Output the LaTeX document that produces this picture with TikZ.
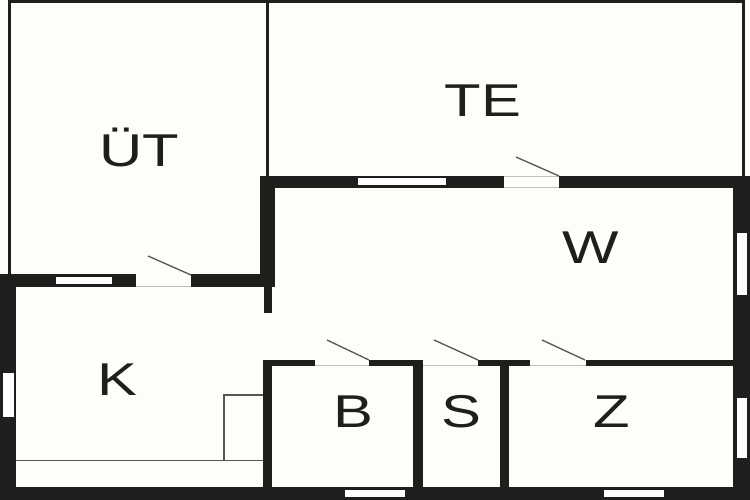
\documentclass[tikz,border=0pt]{standalone}
\usepackage{fontspec}
\setmainfont{Liberation Sans}
\definecolor{wallc}{HTML}{1E1E1C}
\definecolor{paper}{HTML}{FEFEF9}
\definecolor{doorc}{HTML}{555552}
\tikzset{
  wall/.style={fill=wallc,draw=none},
  winpane/.style={fill=white,draw=none},
  gap/.style={fill=paper,draw=none},
  thinwall/.style={draw=wallc,line width=3pt},
  leaf/.style={draw=doorc,line width=1.3pt},
  fixture/.style={draw=doorc,line width=1.2pt},
  sill/.style={draw=black!25,line width=.8pt},
  room/.style={font=\fontsize{46}{46}\selectfont,text=wallc,inner sep=0pt,xscale=1.3}
}
\begin{document}
\begin{tikzpicture}[x=1pt,y=-1pt]
\useasboundingbox[fill=paper] (0,0) rectangle (750,500);
% thin outline of the open-air rooms
\draw[thinwall] (9,274) -- (9,1.5) -- (743,1.5) -- (743,176);
\draw[thinwall] (267,1.5) -- (267,176);
% fixtures
\draw[fixture] (16,460.5) -- (264,460.5);
\draw[fixture] (224,460.5) -- (224,395) -- (264,395);
% outer and inner walls
\fill[wall] (0,274) rectangle (16,500);
\fill[wall] (0,274) rectangle (275,286.5);
\fill[wall] (260,176) rectangle (275,286.5);
\fill[wall] (264,286) rectangle (272,313);
\fill[wall] (260,176) rectangle (750,188);
\fill[wall] (733,176) rectangle (750,500);
\fill[wall] (0,487) rectangle (750,500);
\fill[wall] (263,359.5) rectangle (733,366);
\fill[wall] (263,359.5) rectangle (272,487);
\fill[wall] (413,359.5) rectangle (423,487);
\fill[wall] (499.5,359.5) rectangle (509,487);
% door openings
\fill[gap] (136,274) rectangle (191,286.5);
\fill[gap] (504,176) rectangle (559,188);
\fill[gap] (315,359.5) rectangle (369,366);
\fill[gap] (423,359.5) rectangle (478,366);
\fill[gap] (530,359.5) rectangle (586,366);
\draw[sill] (136,286.2) -- (191,286.2);
\draw[sill] (504,176.3) -- (559,176.3) (504,187.7) -- (559,187.7);
\draw[sill] (315,365.7) -- (369,365.7);
\draw[sill] (423,365.7) -- (478,365.7);
\draw[sill] (530,365.7) -- (586,365.7);
% door leaves
\draw[leaf] (148,256) -- (191,275);
\draw[leaf] (516,157) -- (559,176);
\draw[leaf] (327,340) -- (369,360);
\draw[leaf] (434,340) -- (478,360);
\draw[leaf] (542,340) -- (585,360);
% windows
\fill[winpane] (56,276.5) rectangle (112,284);
\fill[winpane] (358,178) rectangle (446,185.5);
\fill[winpane] (3,372.5) rectangle (14,417);
\fill[winpane] (736.5,233) rectangle (746.5,295);
\fill[winpane] (736.5,397.5) rectangle (746.5,458);
\fill[winpane] (345,490) rectangle (405,497);
\fill[winpane] (604,490) rectangle (664,497);
% room names
\node[room] (ut) at (139,147) {ÜT};
\node[room] (te) at (483,101) {TE};
\node[room] (w) at (591,248) {W};
\node[room] (k) at (117,380) {K};
\node[room] (b) at (353,412) {B};
\node[room] (s) at (461,412) {S};
\node[room] (z) at (612,412) {Z};
\end{tikzpicture}
\end{document}
